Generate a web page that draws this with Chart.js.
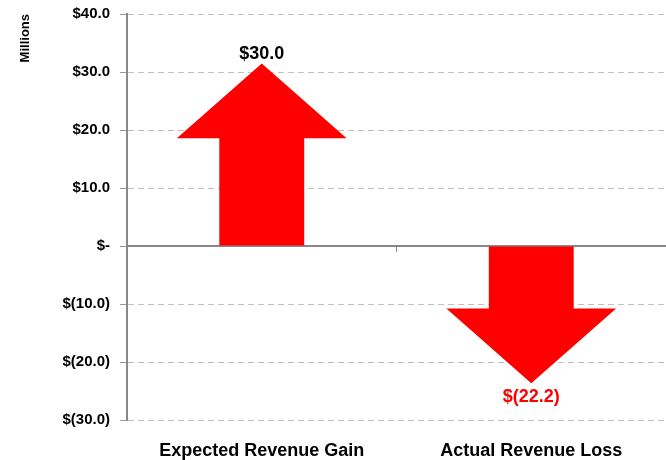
<!DOCTYPE html>
<html lang="en">
<head>
  <meta charset="UTF-8" />
  <title>Revenue Gain vs Loss</title>
  <script src="https://cdn.jsdelivr.net/npm/chart.js"></script>
  <style>
    html, body { margin: 0; padding: 0; background: #fff; }
    #wrap { width: 666px; height: 460px; }
  </style>
</head>
<body>
  <div id="wrap"><canvas id="revChart" width="666" height="460"></canvas></div>

  <script>
    // chart data
    const categories = ['Expected Revenue Gain', 'Actual Revenue Loss'];
    const revenueChange = [30.0, -22.2];
    const valueLabels = ['$30.0', '$(22.2)'];
    const valueLabelColors = ['#000000', '#ff0000'];
    const yTickValues = [-30, -20, -10, 0, 10, 20, 30, 40];
    const yTickLabels = ['$(30.0)', '$(20.0)', '$(10.0)', '$-', '$10.0', '$20.0', '$30.0', '$40.0'];

    const FONT = '"Liberation Sans", Arial, sans-serif';

    // draws each bar as a block arrow pointing from zero to its value
    const arrowPlugin = {
      id: 'arrows',
      afterDatasetsDraw(chart) {
        const ctx = chart.ctx;
        const yScale = chart.scales.y;
        const meta = chart.getDatasetMeta(0);
        const zeroY = yScale.getPixelForValue(0);

        // solid zero line
        ctx.save();
        ctx.strokeStyle = '#888888';
        ctx.lineWidth = 2;
        ctx.beginPath();
        ctx.moveTo(chart.chartArea.left, zeroY);
        ctx.lineTo(chart.chartArea.right, zeroY);
        ctx.stroke();
        // category divider tick
        const midX = (meta.data[0].x + meta.data[1].x) / 2;
        ctx.lineWidth = 1;
        ctx.beginPath();
        ctx.moveTo(midX, zeroY);
        ctx.lineTo(midX, zeroY + 6);
        ctx.stroke();

        meta.data.forEach((bar, i) => {
          const w = bar.width;
          const dir = bar.y < bar.base ? -1 : 1;
          const tipY = bar.y + dir * w * 0.1;
          const headLen = w * 0.88;
          const neckY = tipY - dir * headLen;
          ctx.fillStyle = '#ff0000';
          ctx.beginPath();
          ctx.moveTo(bar.x - w / 2, bar.base);
          ctx.lineTo(bar.x - w / 2, neckY);
          ctx.lineTo(bar.x - w, neckY);
          ctx.lineTo(bar.x, tipY);
          ctx.lineTo(bar.x + w, neckY);
          ctx.lineTo(bar.x + w / 2, neckY);
          ctx.lineTo(bar.x + w / 2, bar.base);
          ctx.closePath();
          ctx.fill();

          ctx.font = 'bold 18px ' + FONT;
          ctx.fillStyle = valueLabelColors[i];
          ctx.textAlign = 'center';
          ctx.textBaseline = 'middle';
          ctx.fillText(valueLabels[i], bar.x, tipY + dir * (dir < 0 ? 9 : 14));
        });
        ctx.restore();
      }
    };

    const ctx = document.getElementById('revChart').getContext('2d');
    new Chart(ctx, {
      type: 'bar',
      data: {
        labels: categories,
        datasets: [{
          data: revenueChange,
          backgroundColor: 'rgba(0,0,0,0)',
          borderWidth: 0,
          barPercentage: 0.315,
          categoryPercentage: 1
        }]
      },
      options: {
        responsive: false,
        animation: false,
        events: [],
        layout: { padding: { top: 14, right: 0, left: 0, bottom: 0 } },
        plugins: {
          legend: { display: false },
          tooltip: { enabled: false }
        },
        scales: {
          x: {
            grid: { display: false },
            border: { display: false },
            ticks: {
              color: '#000',
              padding: 12,
              maxRotation: 0,
              font: { family: FONT, size: 18, weight: 'bold' }
            },
            afterFit(scale) {
              scale.height = 40;
              scale.paddingLeft = 0;
              scale.paddingRight = 0;
            }
          },
          y: {
            min: -30,
            max: 40,
            afterBuildTicks(scale) {
              scale.ticks = yTickValues.map(v => ({ value: v }));
            },
            ticks: {
              color: '#000',
              padding: 10,
              font: { family: FONT, size: 15, weight: 'bold' },
              callback: (v) => yTickLabels[yTickValues.indexOf(v)]
            },
            grid: {
              color: '#c0c0c0',
              lineWidth: 1,
              tickLength: 7,
              tickColor: '#999999'
            },
            border: { display: true, color: '#888888', width: 2, dash: [6, 4] },
            title: {
              display: true,
              text: 'Millions',
              align: 'end',
              color: '#000',
              padding: { top: 18, bottom: 0 },
              font: { family: FONT, size: 13, weight: 'bold' }
            },
            afterFit(scale) {
              scale.width = 127;
              scale.paddingTop = 0;
              scale.paddingBottom = 0;
            }
          }
        }
      },
      plugins: [arrowPlugin]
    });
  </script>
</body>
</html>
